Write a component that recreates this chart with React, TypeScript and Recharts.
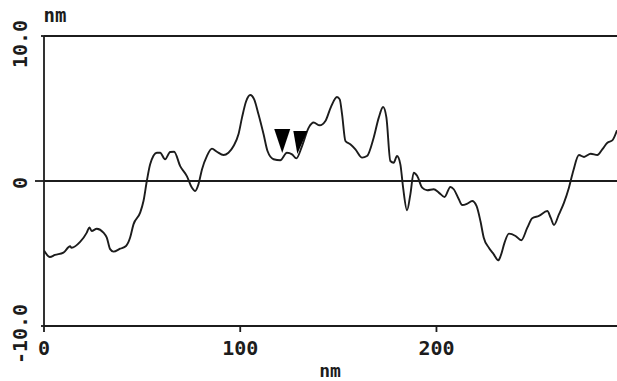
import React from "react";
import { LineChart, Line, XAxis, YAxis, ReferenceLine, ReferenceDot } from "recharts";

// height profile along the scan line (nm vs nm)
const positions = [
  0, 3, 5.6, 9.9, 13.3, 14, 18.4, 21.8, 23.1, 24.3, 26.9, 30.3, 32, 33.7, 35.4, 38.8, 41.8,
  43.9, 45.6, 49, 50.7, 52.4, 54.1, 57.5, 59.2, 61.7, 64.3, 66.3, 69.4, 72.8, 75.4, 77, 78.7,
  80.5, 83, 85.6, 88.1, 91.5, 94, 96.6, 99.1, 100.9, 103, 105.1, 107.1, 109.3, 111.9, 113.9,
  117, 120.4, 123.8, 126.4, 128.6, 131.5, 134.9, 137.4, 140.5, 143.4, 146.2, 149.3, 150.7,
  151.9, 153.6, 156.1, 158.7, 162.1, 164.6, 168, 170.6, 172.8, 174.5, 176.5, 178.2, 179.9,
  181.6, 183, 185, 186.7, 188.4, 190.2, 192.7, 195.3, 198.6, 201.2, 204.1, 207.1, 208.8,
  211.4, 213.1, 215.7, 218.2, 220.4, 222.4, 224.1, 226.7, 229.2, 231.5, 232.7, 234.7, 236.9,
  240.3, 243.2, 246.3, 248.8, 252.2, 256.5, 258.2, 259.9, 262.4, 265, 267.5, 269.7, 272.6,
  275.2, 278.6, 282, 284.5, 287.1, 289.6, 292,
];
const heights = [
  -4.8, -5.24, -5.1, -4.94, -4.5, -4.6, -4.2, -3.56, -3.2, -3.45, -3.29, -3.56, -3.9, -4.7,
  -4.87, -4.67, -4.48, -3.9, -2.99, -2.18, -1.38, 0, 1.15, 1.95, 1.95, 1.5, 2.0, 2.02, 1.03,
  0.34, -0.46, -0.69, -0.23, 0.8, 1.72, 2.23, 2.02, 1.79, 1.95, 2.41, 3.22, 4.37, 5.5, 5.93,
  5.63, 4.6, 3.22, 2.07, 1.5, 1.43, 1.95, 1.84, 1.56, 2.41, 3.68, 4.03, 3.84, 4.14, 5.1, 5.79,
  5.63, 4.6, 2.76, 2.53, 2.18, 1.61, 1.72, 2.99, 4.37, 5.1, 4.37, 1.38, 1.26, 1.72, 1.15,
  -0.46, -2.02, -0.92, 0.57, 0.34, -0.46, -0.64, -0.57, -0.8, -1.1, -0.41, -0.57, -1.26,
  -1.66, -1.56, -1.38, -1.72, -2.76, -3.91, -4.6, -5.06, -5.47, -5.17, -4.25, -3.63, -3.79,
  -4.09, -3.22, -2.57, -2.41, -2.07, -2.53, -3.03, -2.3, -1.49, -0.46, 0.69, 1.79, 1.66,
  1.88, 1.79, 2.18, 2.64, 2.8, 3.5,
];

const xTicks = [0, 100, 200];
const yTicks = [-10, 0, 10];
const yTickLabels: Record<number, string> = { "-10": "-10.0", "0": "0", "10": "10.0" };

// cursor markers (tip position on the profile)
const cursorA = { x: 121.4, y: 1.93 };
const cursorB = { x: 129.1, y: 1.86 };

const data = positions.map((x, i) => ({ x, h: heights[i] }));

const INK = "#1c1c1c";
const FONT = "'DejaVu Sans Mono', monospace";
const AXIS_W = 44;
const LW = 1.8;

function XTick(props: any) {
  const { x, y, payload } = props;
  return (
    <text x={x} y={y + 21} textAnchor="middle" fontFamily={FONT} fontWeight="bold" fontSize={20} fill={INK}>
      {payload.value}
    </text>
  );
}

function YTick(props: any) {
  const { y, payload } = props;
  const v = payload.value;
  const len = v === 0 ? 9 : 3;
  const shift = v === 0 ? 2 : 8;
  return (
    <g>
      <line x1={AXIS_W - len} x2={AXIS_W} y1={y} y2={y} stroke={INK} strokeWidth={LW} />
      <text
        x={0}
        y={0}
        transform={`translate(20 ${y + shift}) rotate(-90)`}
        textAnchor="middle"
        dominantBaseline="central"
        fontFamily={FONT}
        fontWeight="bold"
        fontSize={20}
        fill={INK}
      >
        {yTickLabels[v]}
      </text>
    </g>
  );
}

const triangleA = (p: any) => (
  <path d={`M${p.cx - 8},${p.cy - 24} L${p.cx + 8},${p.cy - 24} L${p.cx},${p.cy} Z`} fill="#000" />
);
const triangleB = (p: any) => (
  <path d={`M${p.cx - 4},${p.cy - 23} L${p.cx + 10},${p.cy - 23} L${p.cx},${p.cy} Z`} fill="#000" />
);

export default function App() {
  return (
    <div style={{ position: "absolute", left: 0, top: 0, background: "#fff" }}>
      <LineChart width={617} height={381} data={data} margin={{ top: 36, right: 0, left: 0, bottom: 0 }}>
        <XAxis
          dataKey="x"
          type="number"
          domain={[0, 292]}
          ticks={xTicks}
          height={55}
          axisLine={{ stroke: INK, strokeWidth: LW }}
          tickLine={{ stroke: INK, strokeWidth: LW }}
          tickSize={6}
          tick={<XTick />}
          allowDataOverflow
        />
        <YAxis
          type="number"
          domain={[-10, 10]}
          ticks={yTicks}
          width={AXIS_W}
          axisLine={{ stroke: INK, strokeWidth: LW }}
          tickLine={false}
          tick={<YTick />}
          allowDataOverflow
        />
        <ReferenceLine y={10} stroke={INK} strokeWidth={LW} />
        <ReferenceLine y={0} stroke={INK} strokeWidth={LW} />
        <Line
          type="monotone"
          dataKey="h"
          stroke={INK}
          strokeWidth={1.9}
          dot={false}
          isAnimationActive={false}
        />
        <ReferenceDot x={cursorA.x} y={cursorA.y} shape={triangleA} />
        <ReferenceDot x={cursorB.x} y={cursorB.y} shape={triangleB} />
        <text x={55} y={22} textAnchor="middle" fontFamily={FONT} fontWeight="bold" fontSize={19} fill={INK}>
          nm
        </text>
        <text x={330} y={377} textAnchor="middle" fontFamily={FONT} fontWeight="bold" fontSize={18} fill={INK}>
          nm
        </text>
      </LineChart>
    </div>
  );
}
